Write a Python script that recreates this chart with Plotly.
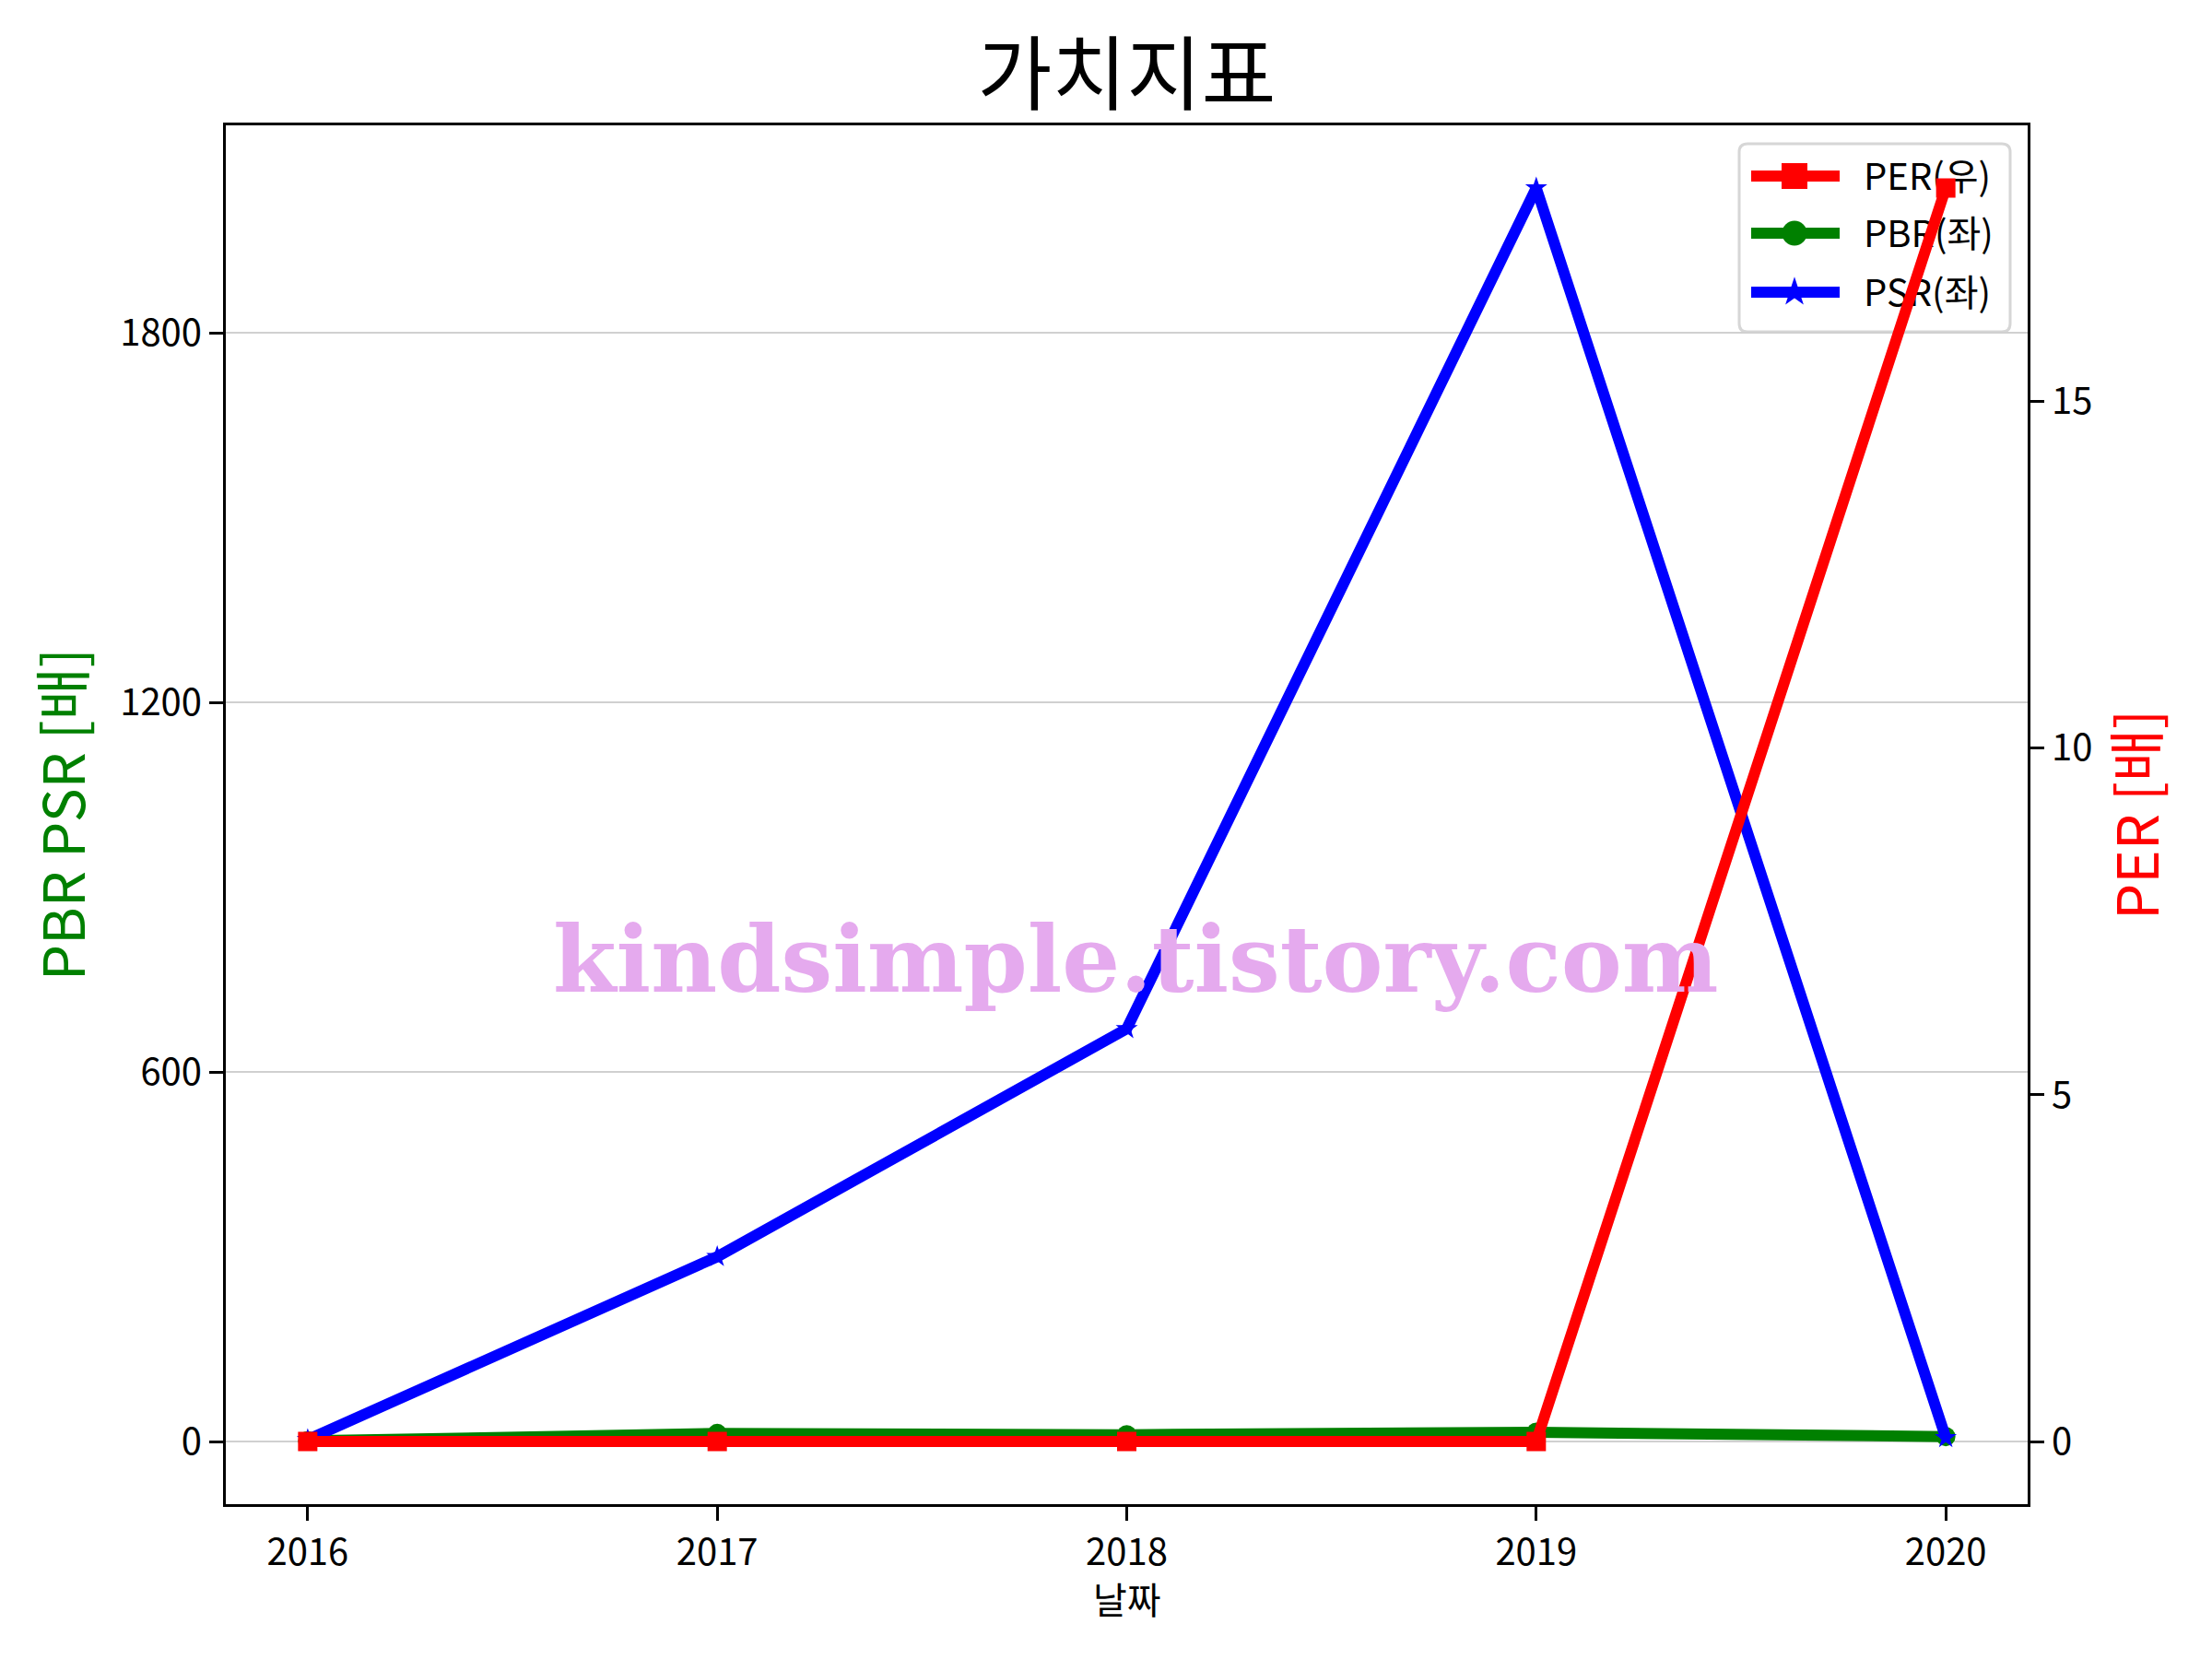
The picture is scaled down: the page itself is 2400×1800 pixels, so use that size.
import plotly.graph_objects as go

years = [2016, 2017, 2018, 2019, 2020]
per = [0, 0, 0, 0, 18.07]
pbr = [1, 13, 11, 15, 8]
psr = [3, 300, 670, 2035, 6]

left_ticks = [0, 600, 1200, 1800]
right_ticks = [0, 5, 10, 15]

series_names = ["PER(우)", "PBR(좌)", "PSR(좌)"]
series_colors = ["red", "green", "blue"]
series_symbols = ["square", "circle", "star"]

FONT = "Noto Sans CJK KR"

X_RANGE = [2015.8, 2020.2]
Y_RANGE = [-101.75, 2136.75]
Y2_RANGE = [-0.9035, 18.9735]

# plot area as displayed (px)
PL, PT, PW, PH = 245, 136, 1955, 1496


def fx(px):
    return (px - PL) / PW


def fy(py):
    return (PT + PH - py) / PH


def dx(px):
    return X_RANGE[0] + fx(px) * (X_RANGE[1] - X_RANGE[0])


def dy(py):
    return Y_RANGE[0] + fy(py) * (Y_RANGE[1] - Y_RANGE[0])


fig = go.Figure()
fig.add_trace(go.Scatter(x=years, y=pbr, name=series_names[1], yaxis="y",
                         mode="lines+markers", showlegend=False,
                         line=dict(color="green", width=12),
                         marker=dict(symbol="circle", size=21, color="green")))
fig.add_trace(go.Scatter(x=years, y=psr, name=series_names[2], yaxis="y",
                         mode="lines+markers", showlegend=False,
                         line=dict(color="blue", width=12),
                         marker=dict(symbol="star", size=18, color="blue")))

# hand-drawn legend (under the right-axis PER line, like the original)
box = (1887, 156, 2181, 360)
r = 9
x0, x1 = fx(box[0]), fx(box[2])
y0, y1 = fy(box[3]), fy(box[1])
rx, ry = r / PW, r / PH
path = (f"M {x0+rx},{y0} L {x1-rx},{y0} Q {x1},{y0} {x1},{y0+ry} "
        f"L {x1},{y1-ry} Q {x1},{y1} {x1-rx},{y1} "
        f"L {x0+rx},{y1} Q {x0},{y1} {x0},{y1-ry} "
        f"L {x0},{y0+ry} Q {x0},{y0} {x0+rx},{y0} Z")
fig.add_shape(type="path", path=path, xref="paper", yref="paper", layer="below",
              fillcolor="rgba(255,255,255,0.8)", line=dict(color="#d6d6d6", width=3))

row_y = [191, 253, 317]
marker_sizes = [28, 27, 24]
for name, col, sym, yy, ms in zip(series_names, series_colors, series_symbols, row_y, marker_sizes):
    fig.add_shape(type="line", xref="paper", yref="paper", layer="below",
                  x0=fx(1900), x1=fx(1996), y0=fy(yy), y1=fy(yy),
                  line=dict(color=col, width=12))
    fig.add_trace(go.Scatter(x=[dx(1947)], y=[dy(yy)], yaxis="y", mode="markers",
                             showlegend=False, hoverinfo="skip",
                             marker=dict(symbol=sym, size=ms, color=col)))
    fig.add_trace(go.Scatter(x=[dx(2022)], y=[dy(yy + 5)], yaxis="y", mode="text",
                             text=[name], textposition="middle right", showlegend=False,
                             hoverinfo="skip",
                             textfont=dict(family=FONT, size=40, color="black")))

fig.add_trace(go.Scatter(x=years, y=per, name=series_names[0], yaxis="y2",
                         mode="lines+markers", showlegend=False,
                         line=dict(color="red", width=12),
                         marker=dict(symbol="square", size=21, color="red")))

tick_font = dict(family=FONT, size=40, color="black")

fig.update_layout(
    width=2400, height=1800,
    margin=dict(l=237, r=208, t=128, b=176),
    paper_bgcolor="white", plot_bgcolor="white",
    font=dict(family=FONT, color="black"),
    showlegend=False,
    title=dict(text="가치지표", xref="paper", x=0.5, xanchor="center",
               y=1 - 73 / 1800, yanchor="middle",
               font=dict(family=FONT, size=88, color="black")),
    xaxis=dict(range=X_RANGE, tickvals=years, ticktext=[str(y) for y in years],
               ticks="outside", ticklen=15, tickwidth=3, tickcolor="black",
               showline=True, linecolor="black", linewidth=3, mirror=True,
               showgrid=False, zeroline=False, tickfont=tick_font),
    yaxis=dict(range=Y_RANGE, tickvals=left_ticks,
               ticks="outside", ticklen=15, tickwidth=3, tickcolor="black",
               showline=True, linecolor="black", linewidth=3, mirror=True,
               showgrid=True, gridcolor="#d0d0d0", gridwidth=2, zeroline=False,
               tickfont=tick_font),
    yaxis2=dict(range=Y2_RANGE, tickvals=right_ticks, overlaying="y", side="right",
                ticks="outside", ticklen=15, tickwidth=3, tickcolor="black",
                showline=True, linecolor="black", linewidth=3,
                showgrid=False, zeroline=False, tickfont=tick_font),
)

fig.add_annotation(text="PBR PSR [배]", xref="paper", yref="paper", x=-0.092, y=0.5,
                   xanchor="center", yanchor="middle", textangle=-90, showarrow=False,
                   font=dict(family=FONT, size=62, color="green"))
fig.add_annotation(text="PER [배]", xref="paper", yref="paper", x=1.0588, y=0.5,
                   xanchor="center", yanchor="middle", textangle=-90, showarrow=False,
                   font=dict(family=FONT, size=62, color="red"))
fig.add_annotation(text="날짜", xref="paper", yref="paper", x=0.5, y=(1632 - 1734) / 1496,
                   xanchor="center", yanchor="middle", showarrow=False,
                   font=dict(family=FONT, size=40, color="black"))
fig.add_annotation(text="<b>kindsimple.tistory.com</b>", xref="paper", yref="paper",
                   x=(1232 - 245) / 1955, y=(1632 - 1041) / 1496,
                   xanchor="center", yanchor="middle", showarrow=False,
                   font=dict(family="DejaVu Serif", size=99, color="#E5AAEE"))

fig.write_html("out.html")
